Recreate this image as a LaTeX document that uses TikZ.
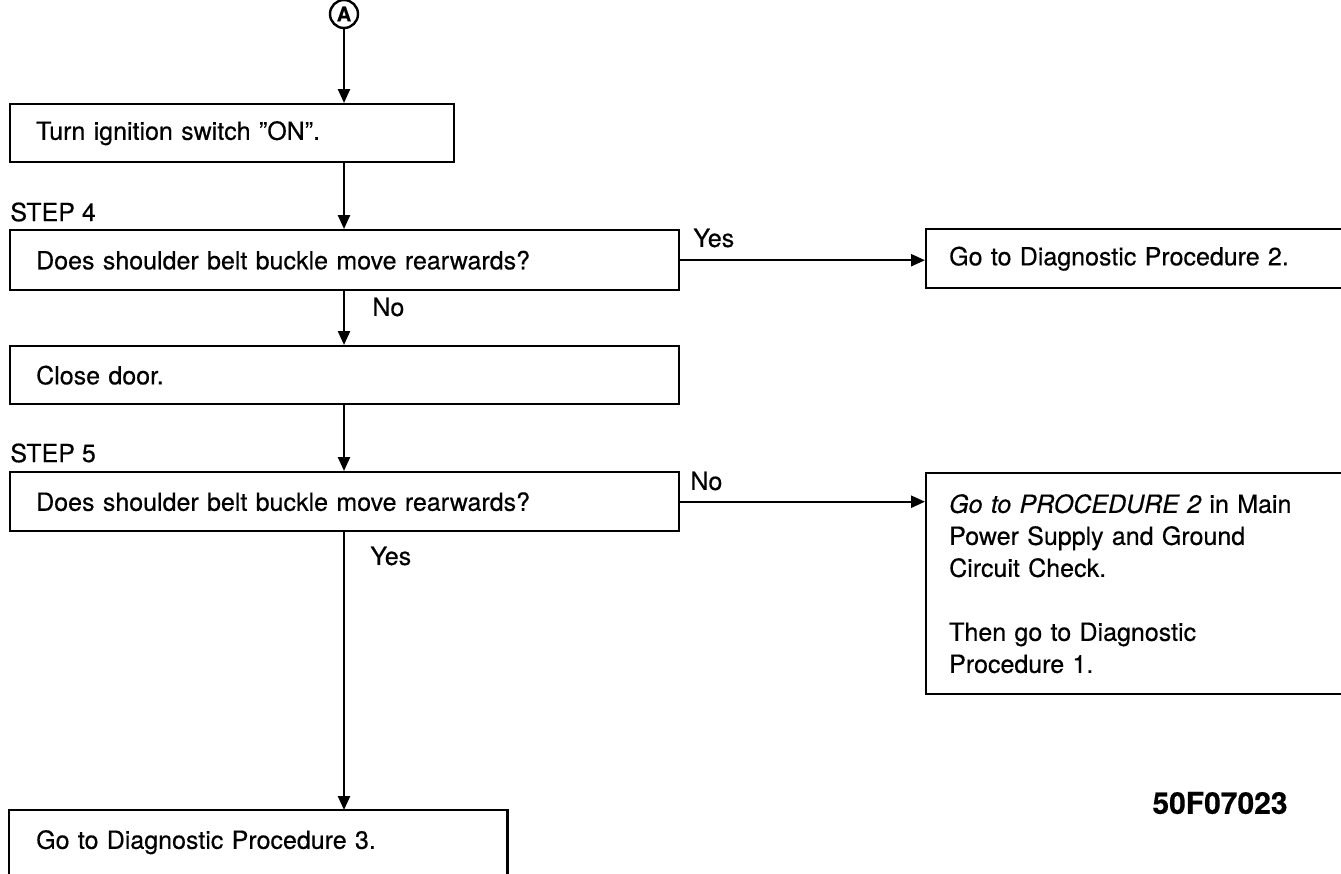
\documentclass[tikz,border=0pt]{standalone}
\usepackage{fontspec}
\setmainfont{TeX Gyre Heros}[FakeBold=0.4]
\usetikzlibrary{arrows.meta}
\tikzset{
    every node/.style={font=\fontsize{12.5}{16}\selectfont},
    stepbox/.style={draw, line width=1.2pt, anchor=north west, inner xsep=13pt,
        inner ysep=0pt, align=left},
    sidebox/.style={stepbox, inner xsep=11.5pt, text width=197pt,
        minimum width=220pt},
    flow/.style={line width=1.2pt, -{Triangle[length=7pt, width=6pt]}},
    lbl/.style={anchor=west, inner sep=0pt},
}

\begin{document}
\begin{tikzpicture}[x=0.5pt, y=-0.5pt]
    \useasboundingbox (0, 0) rectangle (1341, 874);
    \node[draw, circle, line width=1.2pt, minimum size=14pt, inner sep=0pt,
        font=\fontsize{10}{10}\selectfont\bfseries] (circA) at (344, 14) {A};
    % left column
    \node[stepbox, text width=196pt, minimum height=29pt] (turn) at (9, 103)
        {Turn ignition switch ''ON''.};
    \node[lbl] (step4lbl) at (10, 212) {STEP 4};
    \node[stepbox, text width=308.5pt, minimum height=30pt] (q4) at (9, 229)
        {Does shoulder belt buckle move rearwards?};
    \node[stepbox, text width=308.5pt, minimum height=29pt] (door) at (9, 345)
        {Close door.};
    \node[lbl] (step5lbl) at (10, 453) {STEP 5};
    \node[stepbox, text width=308.5pt, minimum height=29.5pt] (q5) at (9, 471)
        {Does shoulder belt buckle move rearwards?};
    \node[stepbox, draw=none, text width=222pt, minimum height=31pt] (diag3)
        at (9, 810) {Go to Diagnostic Procedure 3.};
    \draw[line width=1.2pt] ([yshift=-10pt]diag3.south west) -- (diag3.north west)
        -- (diag3.north east) -- ([yshift=-10pt]diag3.south east);
    % right column
    \node[sidebox, minimum height=29.5pt] (diag2) at (925, 228)
        {Go to Diagnostic Procedure 2.};
    \node[sidebox, minimum height=110.5pt] (pwr) at (925, 472)
        {\itshape Go to PROCEDURE 2\upshape{} in Main\\
        Power Supply and Ground\\ Circuit Check.\\[16pt]
        Then go to Diagnostic\\ Procedure 1.};
    % answers
    \node[lbl] (yes4) at (693, 238) {Yes};
    \node[lbl] (no4) at (372, 307) {No};
    \node[lbl] (no5) at (690, 481) {No};
    \node[lbl] (yes5) at (370, 556) {Yes};
    \node[font=\fontsize{15}{15}\selectfont\bfseries] (figno) at (1220, 803)
        {50F07023};
    % connectors
    \draw[flow] (circA) -- (circA |- turn.north);
    \draw[flow] (circA |- turn.south) -- (circA |- q4.north);
    \draw[flow] (q4.east) -- (q4.east -| diag2.west);
    \draw[flow] (circA |- q4.south) -- (circA |- door.north);
    \draw[flow] (circA |- door.south) -- (circA |- q5.north);
    \draw[flow] (q5.east) -- (q5.east -| pwr.west);
    \draw[flow] (circA |- q5.south) -- (circA |- diag3.north);
\end{tikzpicture}
\end{document}
